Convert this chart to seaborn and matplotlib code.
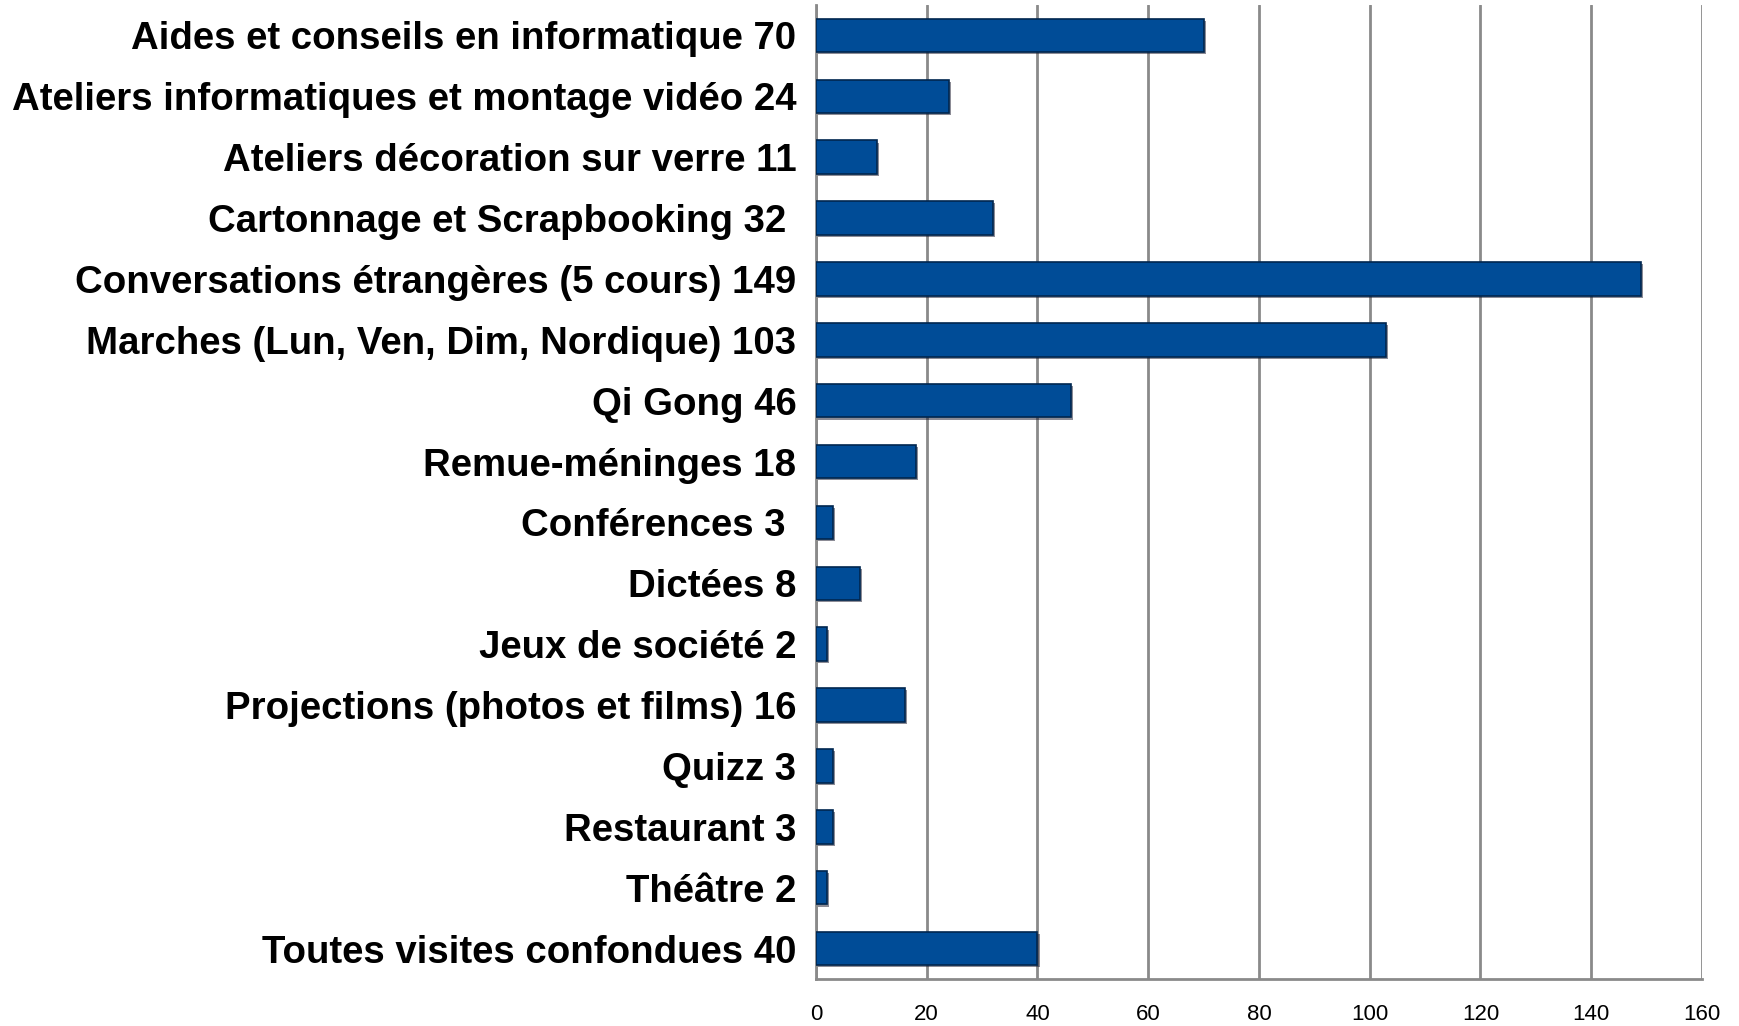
import pandas as pd
import seaborn as sns
import matplotlib.pyplot as plt
import matplotlib.patheffects as pe

activites = [
    "Aides et conseils en informatique 70",
    "Ateliers informatiques et montage vidéo 24",
    "Ateliers décoration sur verre 11",
    "Cartonnage et Scrapbooking 32 ",
    "Conversations étrangères (5 cours) 149",
    "Marches (Lun, Ven, Dim, Nordique) 103",
    "Qi Gong 46",
    "Remue-méninges 18",
    "Conférences 3 ",
    "Dictées 8",
    "Jeux de société 2",
    "Projections (photos et films) 16",
    "Quizz 3",
    "Restaurant 3",
    "Théâtre 2",
    "Toutes visites confondues 40",
]
participants = [70, 24, 11, 32, 149, 103, 46, 18, 3, 8, 2, 16, 3, 3, 2, 40]
xticks = [0, 20, 40, 60, 80, 100, 120, 140, 160]

df = pd.DataFrame({"activite": activites, "n": participants})

sns.set_style("white")
plt.rcParams['font.family'] = ['Liberation Sans', 'DejaVu Sans']

fig = plt.figure(figsize=(17.39, 10.26), dpi=100)
ax = fig.add_axes([0.4692, 0.0458, 0.5095, 0.9493])

sns.barplot(data=df, x="n", y="activite", orient="h", color="#004c97",
            saturation=1, width=0.55, edgecolor="#00264f", linewidth=1.2,
            ax=ax, zorder=3)
for p in ax.patches:
    p.set_path_effects([pe.SimplePatchShadow(offset=(1.5, -1.5), shadow_rgbFace="#1a1a2e", alpha=0.5),
                        pe.Normal()])

ax.set_xlim(0, 160)
ax.set_ylim(15.5, -0.5)
ax.set_xticks(xticks)
ax.set_xlabel("")
ax.set_ylabel("")
ax.xaxis.grid(True, color="#8a8a8a", linewidth=2, zorder=0)
ax.set_axisbelow(True)

for s in ["top", "right"]:
    ax.spines[s].set_visible(False)
for s in ["left", "bottom"]:
    ax.spines[s].set_color("#8a8a8a")
    ax.spines[s].set_linewidth(2)

ax.tick_params(axis="y", length=0, pad=14, labelsize=27.6, labelcolor="black")
ax.tick_params(axis="x", length=0, pad=18, labelsize=16, labelcolor="black")
for t in ax.get_yticklabels():
    t.set_fontweight("bold")

fig.savefig("out.png", dpi=100)
